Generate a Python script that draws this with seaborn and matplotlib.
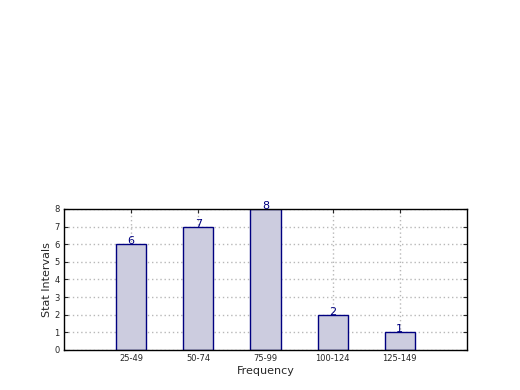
import matplotlib
matplotlib.use("Agg")
import matplotlib.pyplot as plt
import seaborn as sns
import pandas as pd

categories = ["25-49", "50-74", "75-99", "100-124", "125-149"]
counts = [6, 7, 8, 2, 1]

sns.set_style("white")
plt.rcParams['font.family'] = ['DejaVu Sans']

df = pd.DataFrame({"Frequency": categories, "Stat Intervals": counts})

fig = plt.figure(figsize=(5.2, 3.9), dpi=100)
ax = fig.add_axes([0.123, 0.1026, 0.775, 0.3616])
sns.barplot(data=df, x="Frequency", y="Stat Intervals", order=categories,
            color="#ccccdf", edgecolor="navy", linewidth=1.0, width=0.45,
            saturation=1, ax=ax, zorder=2)
for p in ax.patches:
    p.set_facecolor("#ccccdf")
for i, v in enumerate(counts):
    ax.text(i, v - 0.12, str(v), ha="center", va="bottom", color="navy",
            fontsize=8, zorder=3)
ax.set_xlim(-1, 5)
ax.set_ylim(0, 8)
ax.set_yticks(range(0, 9))
ax.grid(True, linestyle=(0, (1, 2)), color="#b8b8b8", linewidth=1.0, zorder=0)
ax.set_axisbelow(True)
ax.tick_params(axis="both", labelsize=6, direction="in", length=3, width=0.8,
               left=True, bottom=True, right=True, top=True, pad=3)
for s in ax.spines.values():
    s.set_color("black")
    s.set_linewidth(1.0)
ax.set_xlabel("Frequency", fontsize=8, labelpad=2)
ax.set_ylabel("Stat Intervals", fontsize=8, labelpad=2)
fig.savefig("out.png", dpi=100)
